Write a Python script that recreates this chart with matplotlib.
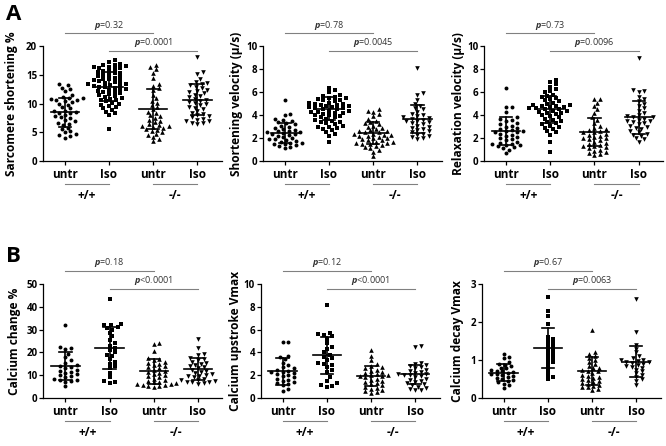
import numpy as np
import matplotlib
matplotlib.use("Agg")
import matplotlib.pyplot as plt

plt.rcParams['font.family'] = ['Open Sans', 'DejaVu Sans']
plt.rcParams['font.weight'] = 'bold'
plt.rcParams['mathtext.fontset'] = 'custom'
plt.rcParams['mathtext.it'] = 'Open Sans:italic'
plt.rcParams['mathtext.rm'] = 'Open Sans'

groups = ['untr', 'Iso', 'untr', 'Iso']
genotypes = ['+/+', '-/-']

# ---- A1: sarcomere shortening %
sarc_untr_wt = [13.4, 13.2, 12.8, 12.6, 12.2, 11.6, 11.2, 11.0, 11.0, 10.9, 10.7, 10.6, 10.5, 10.3,
                10.0, 9.8, 9.4, 9.2, 8.8, 8.7, 8.5, 8.4, 8.3, 8.1, 7.8, 7.6, 7.5, 7.1, 6.9, 6.6, 6.5,
                6.3, 5.8, 5.6, 5.2, 5.0, 4.7, 4.5, 4.3, 4.1]
sarc_iso_wt = [17.6, 17.3, 17.0, 16.8, 16.7, 16.6, 16.5, 16.4, 16.3, 16.2, 16.0, 15.8, 15.7, 15.5,
               15.4, 15.3, 15.1, 15.0, 14.8, 14.7, 14.5, 14.4, 14.3, 14.1, 14.0, 13.9, 13.8, 13.7,
               13.5, 13.4, 13.3, 13.2, 13.1, 13.0, 12.9, 12.8, 12.6, 12.5, 12.4, 12.3, 12.1, 12.0,
               11.8, 11.7, 11.5, 11.4, 11.2, 11.0, 10.9, 10.7, 10.6, 10.4, 10.2, 10.0, 9.8, 9.6,
               9.4, 9.2, 8.9, 8.6, 8.3, 8.0, 5.6]
sarc_untr_ko = [16.7, 16.4, 16.0, 15.4, 14.5, 13.5, 13.1, 12.7, 12.4, 11.6, 11.0, 10.5, 10.2, 9.8,
                9.5, 9.0, 8.6, 8.3, 8.0, 7.8, 7.5, 7.2, 7.0, 6.8, 6.5, 6.3, 6.2, 6.1, 6.0, 5.8, 5.6,
                5.5, 5.3, 5.0, 4.8, 4.5, 4.2, 3.9, 3.5]
sarc_iso_ko = [18.1, 15.6, 15.2, 14.3, 13.8, 13.6, 13.4, 13.2, 13.0, 12.7, 12.4, 12.2, 12.0, 11.8,
               11.6, 11.3, 11.1, 10.9, 10.7, 10.5, 10.3, 10.1, 9.9, 9.7, 9.5, 9.3, 9.0, 8.7, 8.4,
               8.2, 8.0, 7.8, 7.6, 7.4, 7.2, 7.0, 6.9, 6.7, 6.6, 6.5]
sarc_mean = [8.5, 13.0, 9.1, 10.7]
sarc_sd = [2.55, 2.6, 3.5, 2.75]

# ---- A2: shortening velocity
short_untr_wt = [5.3, 4.1, 4.0, 3.7, 3.6, 3.5, 3.4, 3.3, 3.2, 3.1, 3.0, 2.9, 2.8, 2.7, 2.65, 2.6,
                 2.5, 2.5, 2.45, 2.4, 2.35, 2.3, 2.2, 2.1, 2.0, 1.95, 1.9, 1.8, 1.75, 1.7, 1.6, 1.55,
                 1.5, 1.45, 1.4, 1.3, 1.2, 1.1]
short_iso_wt = [6.4, 6.2, 6.0, 5.8, 5.7, 5.6, 5.5, 5.5, 5.4, 5.3, 5.3, 5.2, 5.1, 5.1, 5.0, 5.0, 4.9,
                4.9, 4.8, 4.8, 4.7, 4.7, 4.6, 4.6, 4.5, 4.5, 4.4, 4.4, 4.3, 4.3, 4.2, 4.2, 4.1, 4.0,
                4.0, 3.9, 3.8, 3.8, 3.7, 3.6, 3.5, 3.4, 3.4, 3.3, 3.2, 3.1, 3.0, 3.0, 2.9, 2.8, 2.7,
                2.5, 2.4, 2.2, 1.7]
short_untr_ko = [4.5, 4.4, 4.3, 4.1, 3.9, 3.7, 3.5, 3.4, 3.3, 3.2, 3.1, 3.0, 2.9, 2.8, 2.7, 2.6,
                 2.6, 2.5, 2.5, 2.4, 2.4, 2.3, 2.3, 2.2, 2.2, 2.1, 2.0, 2.0, 1.9, 1.8, 1.8, 1.7, 1.7,
                 1.6, 1.6, 1.5, 1.5, 1.4, 1.3, 1.2, 1.1, 1.0, 0.8, 0.4]
short_iso_ko = [8.1, 5.9, 5.8, 5.3, 5.0, 4.8, 4.6, 4.5, 4.3, 4.1, 4.0, 3.9, 3.8, 3.75, 3.7, 3.6,
                3.5, 3.5, 3.4, 3.3, 3.2, 3.1, 3.0, 2.9, 2.8, 2.7, 2.6, 2.5, 2.4, 2.3, 2.2, 2.1, 2.0,
                1.9]
short_mean = [2.45, 4.55, 2.45, 3.65]
short_sd = [0.85, 1.0, 0.95, 1.2]

# ---- A3: relaxation velocity
relax_untr_wt = [6.4, 4.7, 4.7, 4.3, 3.8, 3.7, 3.6, 3.5, 3.3, 3.2, 3.1, 3.0, 2.9, 2.8, 2.7, 2.6,
                 2.6, 2.5, 2.5, 2.4, 2.3, 2.2, 2.1, 2.0, 1.9, 1.8, 1.7, 1.6, 1.5, 1.5, 1.4, 1.4, 1.3,
                 1.2, 1.1, 1.0, 0.7]
relax_iso_wt = [7.05, 6.9, 6.7, 6.5, 6.3, 6.1, 6.0, 5.8, 5.7, 5.6, 5.5, 5.4, 5.3, 5.2, 5.1, 5.0,
                4.9, 4.9, 4.8, 4.8, 4.7, 4.7, 4.6, 4.6, 4.5, 4.5, 4.4, 4.4, 4.3, 4.2, 4.2, 4.1, 4.0,
                3.9, 3.8, 3.7, 3.6, 3.5, 3.4, 3.3, 3.2, 3.1, 3.0, 2.9, 2.8, 2.6, 2.5, 2.3, 1.7, 0.75]
relax_untr_ko = [5.4, 5.4, 5.1, 4.8, 4.5, 4.2, 3.8, 3.6, 3.3, 3.1, 2.9, 2.8, 2.7, 2.6, 2.5, 2.5,
                 2.4, 2.3, 2.2, 2.1, 2.0, 2.0, 1.9, 1.8, 1.7, 1.6, 1.5, 1.4, 1.3, 1.3, 1.2, 1.1, 1.0,
                 0.9, 0.8, 0.7, 0.6, 0.5]
relax_iso_ko = [9.0, 6.2, 6.1, 6.0, 5.6, 5.4, 5.2, 5.0, 4.8, 4.6, 4.4, 4.2, 4.0, 3.9, 3.8, 3.8,
                3.7, 3.6, 3.5, 3.5, 3.4, 3.3, 3.2, 3.1, 3.0, 2.9, 2.8, 2.6, 2.5, 2.4, 2.3, 2.2, 2.0,
                1.9, 1.7]
relax_mean = [2.6, 4.5, 2.55, 3.8]
relax_sd = [1.2, 1.2, 1.23, 1.4]

# ---- B1: calcium change %
ca_untr_wt = [31.8, 22.5, 22.0, 21.5, 19.5, 18.0, 16.5, 15.5, 14.5, 14.0, 13.5, 13.0, 12.5, 12.0,
              11.5, 11.0, 10.5, 10.0, 9.5, 9.0, 8.5, 8.0, 7.8, 7.5, 7.2, 5.2]
ca_iso_wt = [43.3, 32.5, 32.0, 31.8, 31.0, 30.5, 30.0, 28.5, 27.0, 25.5, 24.0, 23.0, 22.0, 21.0,
             20.0, 19.0, 18.5, 17.0, 16.0, 15.0, 14.0, 13.0, 11.0, 9.0, 7.5, 7.0, 6.5]
ca_untr_ko = [24.0, 23.8, 20.5, 17.5, 17.0, 16.5, 16.0, 15.5, 15.0, 14.5, 14.0, 13.5, 13.0, 12.5,
              12.0, 11.5, 11.0, 10.5, 10.0, 9.5, 9.0, 8.5, 8.0, 7.5, 7.0, 6.8, 6.5, 6.2, 6.0, 5.8,
              5.6, 5.4, 5.2, 5.0]
ca_iso_ko = [26.0, 22.0, 19.5, 19.0, 17.5, 17.0, 16.5, 16.0, 15.5, 15.0, 14.5, 14.0, 13.5, 13.0,
             12.5, 12.0, 11.5, 11.0, 10.5, 10.0, 9.8, 9.5, 9.0, 8.5, 8.0, 7.8, 7.5, 7.2, 7.0, 6.8,
             6.5, 6.2]
ca_mean = [13.9, 21.9, 11.8, 12.6]
ca_sd = [6.1, 9.1, 5.5, 4.8]

# ---- B2: calcium upstroke Vmax
up_untr_wt = [4.95, 4.95, 3.7, 3.6, 3.4, 3.1, 2.9, 2.7, 2.6, 2.5, 2.4, 2.3, 2.3, 2.2, 2.1, 2.0, 1.9,
              1.8, 1.7, 1.6, 1.5, 1.4, 1.3, 1.2, 1.1, 0.8, 0.6]
up_iso_wt = [8.15, 5.7, 5.6, 5.5, 5.4, 5.2, 4.8, 4.5, 4.3, 4.0, 3.8, 3.6, 3.5, 3.3, 3.1, 3.0, 2.9,
             2.7, 2.5, 2.3, 1.8, 1.5, 1.3, 1.1, 1.05, 1.0]
up_untr_ko = [4.2, 3.7, 3.3, 3.0, 2.8, 2.7, 2.6, 2.5, 2.4, 2.3, 2.2, 2.1, 2.0, 2.0, 1.9, 1.9, 1.8,
              1.7, 1.6, 1.5, 1.4, 1.3, 1.2, 1.1, 1.0, 0.9, 0.8, 0.7, 0.6, 0.5, 0.45]
up_iso_ko = [4.55, 4.5, 3.1, 3.0, 2.9, 2.8, 2.7, 2.6, 2.5, 2.4, 2.3, 2.2, 2.1, 2.1, 2.0, 2.0, 1.9,
             1.8, 1.7, 1.6, 1.5, 1.4, 1.3, 1.2, 1.1, 1.0, 0.9, 0.8, 0.7, 0.7]
up_mean = [2.35, 3.75, 1.93, 2.07]
up_sd = [1.18, 1.63, 0.9, 0.85]

# ---- B3: calcium decay Vmax
dec_untr_wt = [1.15, 1.08, 1.05, 0.95, 0.9, 0.88, 0.85, 0.8, 0.78, 0.75, 0.72, 0.7, 0.68, 0.66,
               0.64, 0.62, 0.6, 0.58, 0.55, 0.52, 0.5, 0.48, 0.45, 0.42, 0.38, 0.33, 0.27]
dec_iso_wt = [2.65, 2.3, 2.15, 1.95, 1.6, 1.55, 1.5, 1.45, 1.4, 1.35, 1.3, 1.25, 1.2, 1.15, 1.1,
              1.05, 1.0, 0.95, 0.9, 0.8, 0.7, 0.6, 0.55, 0.5]
dec_untr_ko = [1.8, 1.2, 1.15, 1.1, 1.05, 1.0, 0.95, 0.9, 0.85, 0.8, 0.78, 0.75, 0.72, 0.7, 0.65,
               0.6, 0.58, 0.55, 0.52, 0.5, 0.48, 0.45, 0.42, 0.4, 0.38, 0.35, 0.32, 0.3, 0.28,
               0.25, 0.2]
dec_iso_ko = [2.6, 1.75, 1.4, 1.3, 1.2, 1.1, 1.05, 1.0, 1.0, 0.98, 0.96, 0.95, 0.93, 0.9, 0.88,
              0.85, 0.82, 0.8, 0.75, 0.7, 0.65, 0.6, 0.55, 0.5, 0.45, 0.33]
dec_mean = [0.67, 1.31, 0.72, 0.96]
dec_sd = [0.23, 0.52, 0.37, 0.41]

panels = [
    dict(data=[sarc_untr_wt, sarc_iso_wt, sarc_untr_ko, sarc_iso_ko], mean=sarc_mean, sd=sarc_sd,
         ylabel='Sarcomere shortening %', yticks=[0, 5, 10, 15, 20], p=['0.32', '0.0001'],
         box=(42.7, 46.5, 161), labx=12),
    dict(data=[short_untr_wt, short_iso_wt, short_untr_ko, short_iso_ko], mean=short_mean, sd=short_sd,
         ylabel='Shortening velocity (\u03bc/s)', yticks=[0, 2, 4, 6, 8, 10], p=['0.78', '0.0045'],
         box=(262.7, 46.5, 161), labx=237),
    dict(data=[relax_untr_wt, relax_iso_wt, relax_untr_ko, relax_iso_ko], mean=relax_mean, sd=relax_sd,
         ylabel='Relaxation velocity (\u03bc/s)', yticks=[0, 2, 4, 6, 8, 10], p=['0.73', '0.0096'],
         box=(484, 46.5, 161), labx=458),
    dict(data=[ca_untr_wt, ca_iso_wt, ca_untr_ko, ca_iso_ko], mean=ca_mean, sd=ca_sd,
         ylabel='Calcium change %', yticks=[0, 10, 20, 30, 40, 50], p=['0.18', '<0.0001'],
         box=(43.3, 284, 398), labx=15),
    dict(data=[up_untr_wt, up_iso_wt, up_untr_ko, up_iso_ko], mean=up_mean, sd=up_sd,
         ylabel='Calcium upstroke Vmax', yticks=[0, 2, 4, 6, 8, 10], p=['0.12', '<0.0001'],
         box=(260.5, 284, 398), labx=235),
    dict(data=[dec_untr_wt, dec_iso_wt, dec_untr_ko, dec_iso_ko], mean=dec_mean, sd=dec_sd,
         ylabel='Calcium decay Vmax', yticks=[0, 1, 2, 3], p=['0.67', '0.0063'],
         box=(481.5, 284, 398), labx=457),
]

markers = ['o', 's', '^', 'v']
msizes = [8, 7, 11, 11]

W, H = 666, 446
AX_W = 179
XLIM = (-0.5, 3.55)


def swarm(vals, ymax, h_px):
    # GraphPad-like spreading of points, done in pixel space
    xs_per = AX_W / (XLIM[1] - XLIM[0])
    ypix = np.asarray(vals) / ymax * h_px
    order = np.argsort(ypix)
    cands = [0.0]
    for k in range(1, 40):
        cands += [k * 1.4, -k * 1.4]
    placed = []
    offs = np.zeros(len(vals))
    for i in order:
        for c in cands:
            ok = True
            for px, py in placed:
                if ((c - px) / 5.6) ** 2 + ((ypix[i] - py) / 3.6) ** 2 < 1:
                    ok = False
                    break
            if ok:
                break
        placed.append((c, ypix[i]))
        offs[i] = c / xs_per
    return offs


fig = plt.figure(figsize=(W / 100, H / 100), dpi=100)

for pnl in panels:
    left, top, bottom = pnl['box']
    h_px = bottom - top
    ax = fig.add_axes([left / W, 1 - bottom / H, AX_W / W, h_px / H])
    ymax = pnl['yticks'][-1]

    for i, vals in enumerate(pnl['data']):
        offs = swarm(vals, ymax, h_px)
        ax.scatter(i + offs, vals, marker=markers[i], s=msizes[i], color='black',
                   linewidths=0, clip_on=False, zorder=3)
        m, s = pnl['mean'][i], pnl['sd'][i]
        ax.plot([i - 0.32, i + 0.32], [m, m], color='black', lw=1.2, zorder=4)
        ax.plot([i, i], [m - s, m + s], color='black', lw=1.2, zorder=4)
        ax.plot([i - 0.14, i + 0.14], [m + s, m + s], color='black', lw=1.2, zorder=4)
        ax.plot([i - 0.14, i + 0.14], [m - s, m - s], color='black', lw=1.2, zorder=4)

    ax.set_xlim(*XLIM)
    ax.set_ylim(0, ymax)
    ax.set_yticks(pnl['yticks'])
    ax.set_xticks(range(4))
    ax.set_xticklabels(groups, fontsize=8.5, fontweight='bold')
    ax.tick_params(axis='y', labelsize=7, length=3, width=0.9, pad=1)
    ax.tick_params(axis='x', length=3, width=0.9, pad=2)
    for lab in ax.get_yticklabels():
        lab.set_fontweight('bold')
    for sp in ['top', 'right']:
        ax.spines[sp].set_visible(False)
    for sp in ['left', 'bottom']:
        ax.spines[sp].set_linewidth(0.9)

    # p-value brackets above the plot
    tr = ax.get_xaxis_transform()
    ax.plot([0, 2], [1.115, 1.115], color='#808080', lw=0.8, transform=tr, clip_on=False)
    ax.plot([1, 3], [0.96, 0.96], color='#808080', lw=0.8, transform=tr, clip_on=False)
    ax.text(1, 1.13, '$p$=' + pnl['p'][0], transform=tr, ha='center', va='bottom',
            fontsize=6.5, fontweight='normal', color='#333333')
    ax.text(2, 0.975, '$p$' + ('' if pnl['p'][1].startswith('<') else '=') + pnl['p'][1],
            transform=tr, ha='center', va='bottom', fontsize=6.5, fontweight='normal',
            color='#333333')

    # genotype labels under the x axis
    for j, g in enumerate(genotypes):
        ax.plot([2 * j, 2 * j + 1], [-0.2, -0.2], color='#808080', lw=0.8, transform=tr,
                clip_on=False)
        ax.text(2 * j + 0.5, -0.3, g, transform=tr, ha='center', va='center', fontsize=8.5,
                fontweight='bold')

    fig.text(pnl['labx'] / W, 1 - (top + bottom) / 2 / H, pnl['ylabel'], rotation=90,
             ha='center', va='center', fontsize=8.6, fontweight='bold')

fig.text(6 / W, 1 - 14 / H, 'A', fontsize=16, fontweight='bold', ha='left', va='center')
fig.text(6 / W, 1 - 257 / H, 'B', fontsize=16, fontweight='bold', ha='left', va='center')

fig.savefig('out.png', dpi=100)
